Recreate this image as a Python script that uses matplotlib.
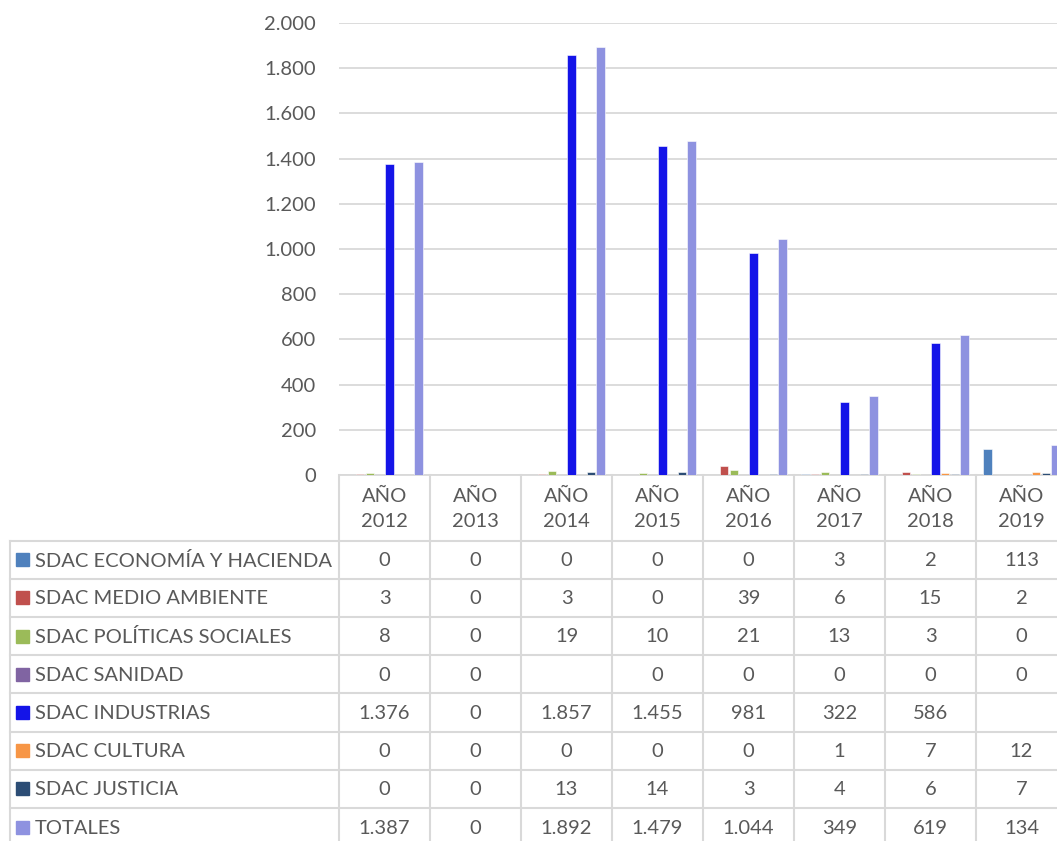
import matplotlib
matplotlib.use("Agg")
import matplotlib.pyplot as plt
import numpy as np

plt.rcParams['font.family'] = ['Lato', 'DejaVu Sans']

# datos
years = ['AÑO\n2012', 'AÑO\n2013', 'AÑO\n2014', 'AÑO\n2015', 'AÑO\n2016', 'AÑO\n2017', 'AÑO\n2018', 'AÑO\n2019']
series_names = ['SDAC ECONOMÍA Y HACIENDA', 'SDAC MEDIO AMBIENTE', 'SDAC POLÍTICAS SOCIALES',
                'SDAC SANIDAD', 'SDAC INDUSTRIAS', 'SDAC CULTURA', 'SDAC JUSTICIA', 'TOTALES']
economia = [0, 0, 0, 0, 0, 3, 2, 113]
medio_ambiente = [3, 0, 3, 0, 39, 6, 15, 2]
politicas = [8, 0, 19, 10, 21, 13, 3, 0]
sanidad = [0, 0, None, 0, 0, 0, 0, 0]
industrias = [1376, 0, 1857, 1455, 981, 322, 586, None]
cultura = [0, 0, 0, 0, 0, 1, 7, 12]
justicia = [0, 0, 13, 14, 3, 4, 6, 7]
totales = [1387, 0, 1892, 1479, 1044, 349, 619, 134]
all_series = [economia, medio_ambiente, politicas, sanidad, industrias, cultura, justicia, totales]
colors = ['#4F81BD', '#C0504D', '#9BBB59', '#8064A2', '#1414E8', '#F79646', '#2C4D75', '#8E92E0']

W, H = 1057, 841
fs = 14.5
fig = plt.figure(figsize=(W / 100, H / 100), dpi=100)

# zona del gráfico (en píxeles)
px_left, px_right, px_top, px_base = 339, 1067, 23, 475
ax = fig.add_axes([px_left / W, 1 - px_base / H, (px_right - px_left) / W, (px_base - px_top) / H])

n = len(years)
x = np.arange(n)
bw = 0.1065
for i, (vals, col) in enumerate(zip(all_series, colors)):
    v = [0 if a is None else a for a in vals]
    ax.bar(x + (i - 3.5) * bw, v, width=bw * 0.86, color=col, edgecolor='white', linewidth=0.4, zorder=3)

ax.set_xlim(-0.5, n - 0.5)
ax.set_ylim(0, 2000)
ax.set_yticks(np.arange(0, 2001, 200))
ax.set_yticklabels([f'{t:,}'.replace(',', '.') for t in range(0, 2001, 200)], fontsize=fs, color='#595959')
ax.tick_params(axis='y', length=0, pad=16.5)
ax.set_xticks([])
ax.grid(axis='y', color='#D9D9D9', linewidth=1.3, zorder=0)
for s in ['top', 'right', 'left']:
    ax.spines[s].set_visible(False)
ax.spines['bottom'].set_color('#D9D9D9')
ax.spines['bottom'].set_linewidth(1.3)

# tabla de datos
tab = fig.add_axes([0, 0, 1, 1])
tab.set_xlim(0, W)
tab.set_ylim(H, 0)
tab.axis('off')
lc = '#D9D9D9'
col_w = (px_right - px_left) / n
col_edges = [px_left + k * col_w for k in range(n + 1)]
head_bot = 540.5
row_h = 38.2
row_edges = [head_bot + k * row_h for k in range(len(series_names) + 1)]
tc = '#595959'

for xe in col_edges:
    tab.plot([xe, xe], [px_base, row_edges[-1]], color=lc, lw=1.5)
tab.plot([10, 10], [head_bot, row_edges[-1]], color=lc, lw=1.5)
for ye in row_edges:
    tab.plot([10, px_right], [ye, ye], color=lc, lw=1.5)

for j, yl in enumerate(years):
    tab.text((col_edges[j] + col_edges[j + 1]) / 2, (px_base + head_bot) / 2 + 1, yl,
             ha='center', va='center', fontsize=fs, color=tc, linespacing=1.6)

for i, (name, vals, col) in enumerate(zip(series_names, all_series, colors)):
    yc = (row_edges[i] + row_edges[i + 1]) / 2
    tab.add_patch(plt.Rectangle((16, yc - 6.5), 13, 13, color=col))
    tab.text(35, yc + 1, name, ha='left', va='center', fontsize=fs, color=tc)
    for j, v in enumerate(vals):
        if v is None:
            continue
        tab.text((col_edges[j] + col_edges[j + 1]) / 2, yc + 1, f'{v:,}'.replace(',', '.'),
                 ha='center', va='center', fontsize=fs, color=tc)

fig.savefig('out.png', dpi=100)
